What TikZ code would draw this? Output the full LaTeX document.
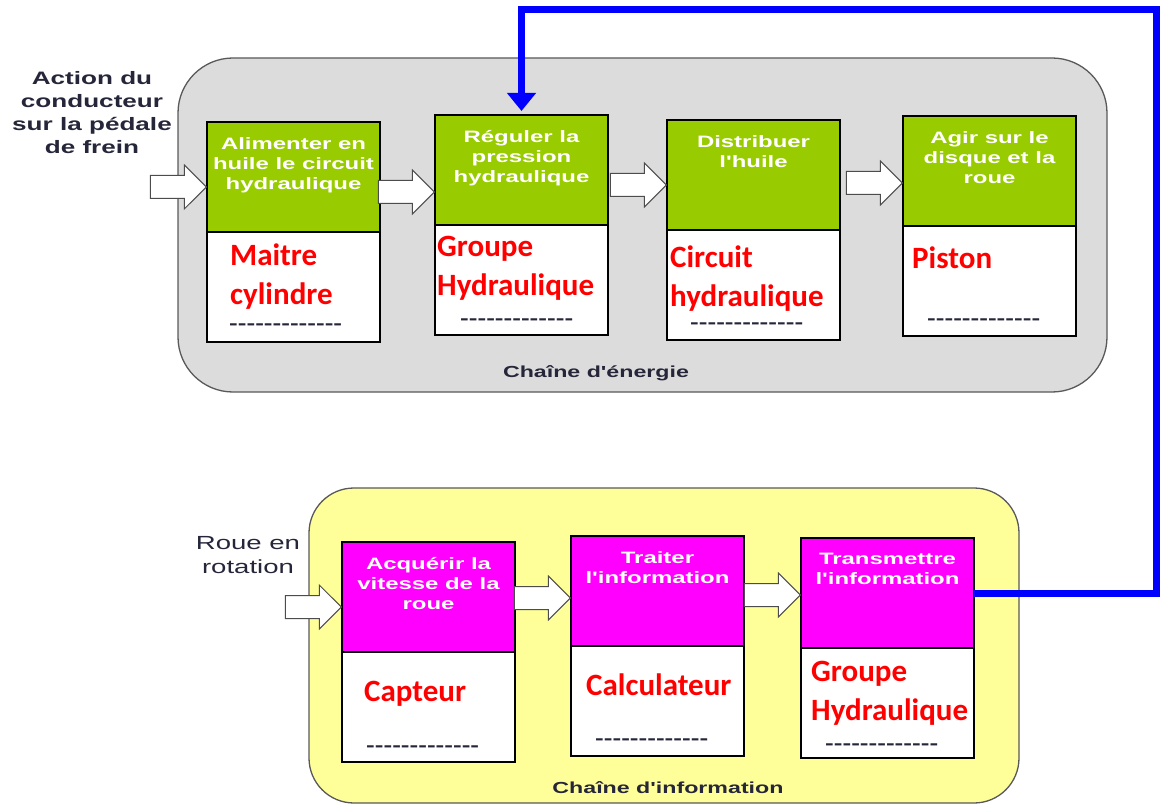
\documentclass[tikz,border=0pt]{standalone}
\usepackage{fontspec}
\setmainfont{Liberation Sans}
\newfontfamily\etire[FakeStretch=1.45]{Liberation Sans}
\newfontfamily\calibri{Carlito}
\usepackage{xcolor}
\usetikzlibrary{positioning,arrows.meta,shapes.arrows,calc}
\definecolor{vert}{HTML}{99CC00}
\definecolor{rose}{HTML}{FF00FF}
\definecolor{grisfond}{HTML}{DCDCDC}
\definecolor{jaune}{HTML}{FFFF99}
\definecolor{encre}{HTML}{26263A}
\newcommand{\tirets}{-{}-{}-{}-{}-{}-{}-{}-{}-{}-{}-{}-{}-}

\begin{document}
\begin{tikzpicture}[x=1pt, y=-1pt,
    chaine/.style={draw=black!65, line width=1.3pt, rounded corners=#1},
    fonction/.style={draw, line width=1.5pt, fill=#1, minimum width=173pt, minimum height=110pt, inner sep=0pt, outer sep=0pt, anchor=north west},
    support/.style={draw, line width=1.5pt, fill=white, minimum width=173pt, minimum height=110pt, inner sep=0pt, outer sep=0pt},
    titre/.style={text=white, font=\etire\bfseries\fontsize{16.5}{20}\selectfont, align=center, anchor=north, inner sep=0pt, execute at begin node={\rule{0pt}{15pt}}},
    composant/.style={text=red, font=\calibri\bfseries\fontsize{31}{39}\selectfont, align=left, anchor=north west, inner sep=0pt, execute at begin node={\rule{0pt}{24pt}}},
    blanc/.style={text=encre, font=\etire\bfseries\fontsize{18}{20}\selectfont, anchor=base west, inner sep=0pt},
    creux/.style={single arrow, draw=black!70, fill=white, line width=1pt, minimum height=56pt, inner xsep=0pt, inner ysep=11pt, single arrow head extend=10.5pt, anchor=tip},
    liaison/.style={draw=blue, line width=7pt, -{Triangle[width=28pt,length=18pt]}, shorten >=4pt},
    legende/.style={text=encre, font=\etire\bfseries\fontsize{16}{20}\selectfont, anchor=base, inner sep=0pt}
  ]
  \useasboundingbox (0,0) rectangle (1160,805);
  % les deux chaines
  \draw[chaine=55pt, fill=grisfond] (178,58) rectangle (1107,392);
  \draw[chaine=45pt, fill=jaune] (309,488) rectangle (1019,803);
  \node[legende] (energie) at (596,377) {Chaîne d'énergie};
  \node[legende] (information) at (668,793) {Chaîne d'information};
  % entrees
  \node[text=encre, font=\etire\bfseries\fontsize{18}{23}\selectfont, align=center, anchor=north, inner sep=0pt,
    execute at begin node={\rule{0pt}{14pt}}] (action) at (92,71) {Action du\\conducteur\\sur la pédale\\de frein};
  \node[text=encre, font=\etire\fontsize{19}{24}\selectfont, align=center, anchor=north, inner sep=0pt,
    execute at begin node={\rule{0pt}{14pt}}] (rotation) at (248,536) {Roue en\\rotation};
  % fonctions et supports
  \foreach \nom/\x/\y/\teinte/\texte in {
      1/207/122/vert/{Alimenter en\\huile le circuit\\hydraulique},
      2/435/115/vert/{Réguler la\\pression\\hydraulique},
      3/667/120/vert/{Distribuer\\l'huile},
      4/903/116/vert/{Agir sur le\\disque et la\\roue},
      A/342/542/rose/{Acquérir la\\vitesse de la\\roue},
      B/571/536/rose/{Traiter\\l'information},
      C/801/538/rose/{Transmettre\\l'information}}
  {
    \node[fonction=\teinte] (f\nom) at (\x,\y) {};
    \node[support, below=0pt of f\nom] (s\nom) {};
    \node[titre] (t\nom) at ([yshift=-15pt]f\nom.north) {\texte};
  }
  % composants
  \node[composant] (r1) at (230,244) {Maitre\\cylindre};
  \node[composant] (r2) at (437,236) {Groupe\\Hydraulique};
  \node[composant] (r3) at (670,246) {Circuit\\hydraulique};
  \node[composant] (r4) at (912,244) {Piston};
  \node[composant] (rA) at (364,677) {Capteur};
  \node[composant] (rB) at (586,671) {Calculateur};
  \node[composant] (rC) at (811,661) {Groupe\\Hydraulique};
  \foreach \nom/\x/\y in {1/229/330, 2/460/324, 3/690/328, 4/927/324, A/366/751, B/595/744, C/825/749}
    \node[blanc] (d\nom) at (\x,\y) {\tirets};
  % fleches creuses
  \node[creux] (a0) at ([yshift=-10pt]f1.west) {};
  \node[creux] (a12) at ([yshift=-22pt]f2.west) {};
  \node[creux] (a23) at ([yshift=-10pt]f3.west) {};
  \node[creux] (a34) at ([yshift=-12pt]f4.west) {};
  \node[creux] (aA0) at ([yshift=-10pt]fA.west) {};
  \node[creux] (aAB) at ([yshift=-7pt]fB.west) {};
  \node[creux] (aBC) at ([yshift=-2pt]fC.west) {};
  % retour d'information
  \coordinate (coin) at (1156,10);
  \draw[liaison] (fC.east) -| (coin) -| (f2.north);
\end{tikzpicture}
\end{document}
